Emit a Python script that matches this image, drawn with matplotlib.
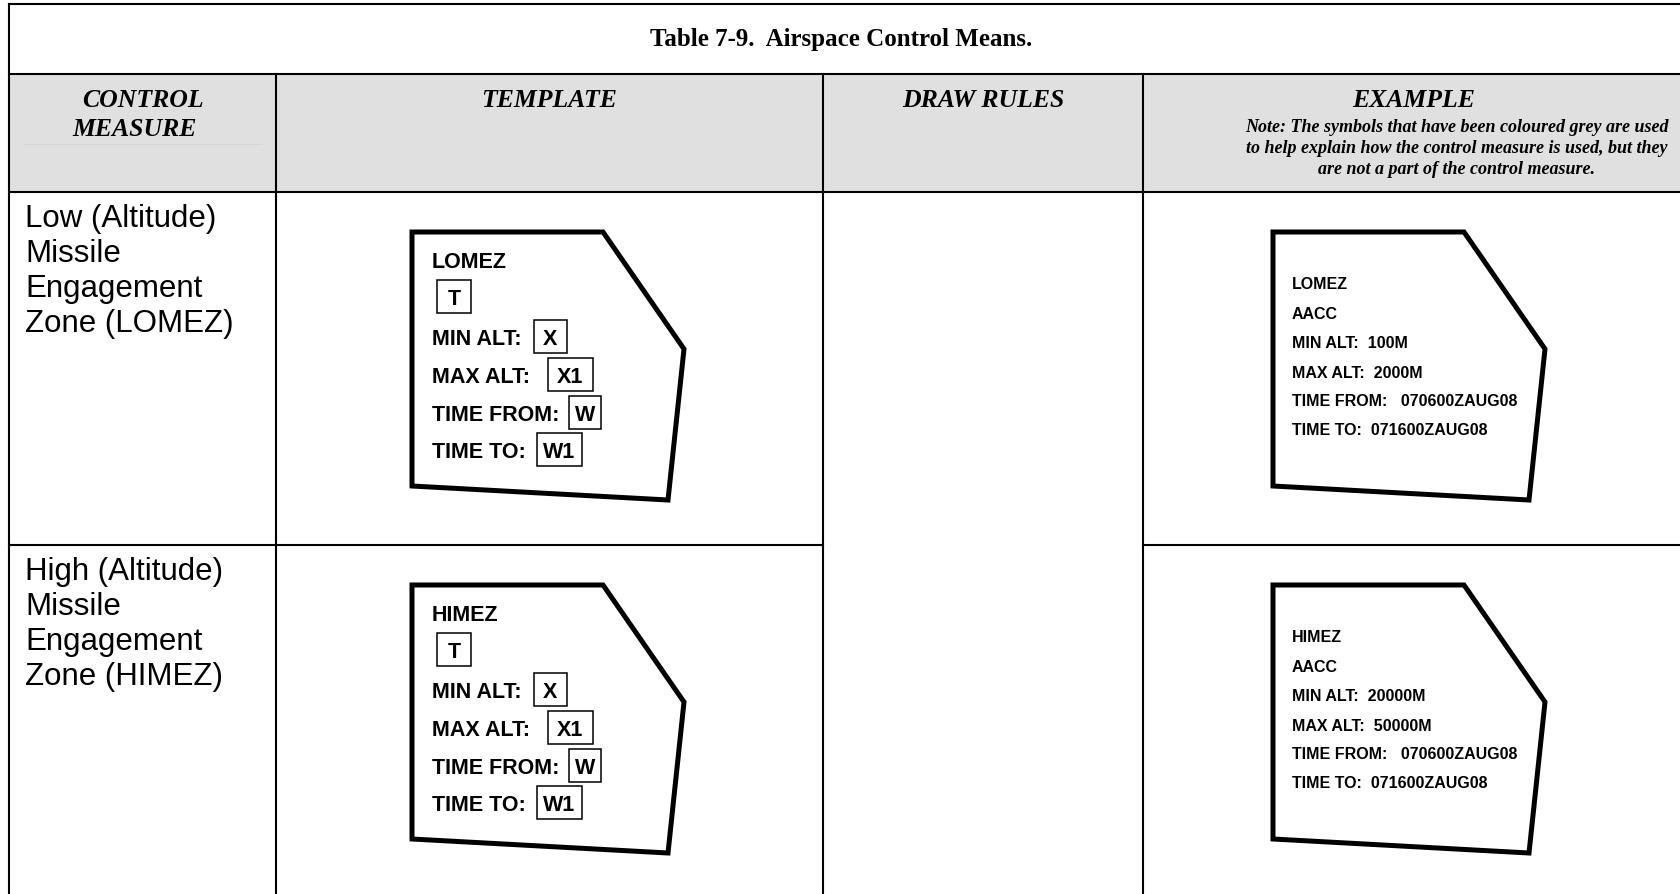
import matplotlib.pyplot as plt
from matplotlib.patches import Rectangle, Polygon

# table text
title = "Table 7-9.  Airspace Control Means."
col_heads = ["TEMPLATE", "DRAW RULES", "EXAMPLE"]
first_head = ["CONTROL", "MEASURE"]
note = ["Note: The symbols that have been coloured grey are used",
        "to help explain how the control measure is used, but they",
        "are not a part of the control measure."]
row_labels = [["Low (Altitude)", "Missile", "Engagement", "Zone (LOMEZ)"],
              ["High (Altitude)", "Missile", "Engagement", "Zone (HIMEZ)"]]
zone_names = ["LOMEZ", "HIMEZ"]
tmpl_fields = ["MIN ALT:", "MAX ALT:", "TIME FROM:", "TIME TO:"]
tmpl_boxes = ["T", "X", "X1", "W", "W1"]
aacc = ["AACC", "AACC"]
min_alt = ["100M", "20000M"]
max_alt = ["2000M", "50000M"]
time_from = ["070600ZAUG08", "070600ZAUG08"]
time_to = ["071600ZAUG08", "071600ZAUG08"]

W, H = 1681, 895
fig = plt.figure(figsize=(16.81, 8.95), dpi=100)
ax = fig.add_axes([0, 0, 1, 1])
ax.set_xlim(0, W)
ax.set_ylim(H, 0)
ax.axis('off')

serif = 'Liberation Serif'
sans = 'Liberation Sans'

xs = [9, 276, 823, 1143, W]
y_top, y_title, y_head, y_sep = 5, 75, 193, 546
row_tops = [y_head, y_sep]

# header fill
ax.add_patch(Rectangle((xs[0], y_title), W - xs[0], y_head - y_title,
                       fc='#e0e0e0', ec='none', zorder=0))

lk = dict(color='black', lw=1.5, solid_capstyle='projecting')
ax.plot([xs[0], W], [y_top, y_top], **lk)
ax.plot([xs[0], W], [y_title, y_title], **lk)
ax.plot([xs[0], W], [y_head, y_head], **lk)
ax.plot([xs[0], xs[2]], [y_sep, y_sep], **lk)
ax.plot([xs[3], W], [y_sep, y_sep], **lk)
ax.plot([xs[0], xs[0]], [y_top, H + 5], **lk)
for x in xs[1:4]:
    ax.plot([x, x], [y_title, H + 5], **lk)

# title and headers
ax.text(841, 46, title, ha='center', va='baseline', family=serif,
        weight='bold', fontsize=18)
ax.text(143, 107, first_head[0], ha='center', va='baseline', family=serif,
        weight='bold', style='italic', fontsize=18.5)
ax.text(135, 136, first_head[1], ha='center', va='baseline', family=serif,
        weight='bold', style='italic', fontsize=18.5)
ax.plot([23, 262], [145, 145], color='#d2d2d2', lw=0.6)
head_cx = [(xs[1] + xs[2]) / 2, (xs[2] + xs[3]) / 2, 1414]
for i, h in enumerate(col_heads):
    ax.text(head_cx[i], 107, h, ha='center', va='baseline', family=serif,
            weight='bold', style='italic', fontsize=18.5)
for i, line in enumerate(note):
    ax.text(1457, 132 + i * 21, line, ha='center', va='baseline',
            family=serif, weight='bold', style='italic', fontsize=13)

shape = [(0, 0), (191, 0), (272, 117), (256, 268), (0, 254)]

for r, top in enumerate(row_tops):
    # row label
    for i, s in enumerate(row_labels[r]):
        ax.text(25, top + 34 + i * 35, s, ha='left', va='baseline',
                family=sans, fontsize=22.5)

    # template shape
    tx, ty = 412, top + 40
    ax.add_patch(Polygon([(tx + a, ty + b) for a, b in shape], closed=True,
                         fill=False, ec='black', lw=3.6, joinstyle='miter'))
    cy = [67, 104.5, 144, 182, 220, 257]
    ax.text(432, top + cy[0] + 7.7, zone_names[r], ha='left', va='baseline',
            family=sans, weight='bold', fontsize=15.5)
    for i, f in enumerate(tmpl_fields):
        ax.text(432, top + cy[i + 2] + 7.7, f, ha='left', va='baseline',
                family=sans, weight='bold', fontsize=15.5)
    bx = [(437, 34), (534, 33), (548, 45), (569, 32), (537, 45)]
    for i, b in enumerate(tmpl_boxes):
        x0, bw = bx[i]
        yc = top + cy[i + 1]
        ax.add_patch(Rectangle((x0, yc - 16.5), bw, 33, fill=False,
                               ec='black', lw=1.1))
        ax.text(x0 + bw / 2, yc + 7.7, b, ha='center', va='baseline',
                family=sans, weight='bold', fontsize=15.5)

    # example shape
    ex, ey = 1273, top + 40
    ax.add_patch(Polygon([(ex + a, ey + b) for a, b in shape], closed=True,
                         fill=False, ec='black', lw=3.6, joinstyle='miter'))
    lines = [zone_names[r], aacc[r],
             "MIN ALT:  " + min_alt[r],
             "MAX ALT:  " + max_alt[r],
             "TIME FROM:   " + time_from[r],
             "TIME TO:  " + time_to[r]]
    ecy = [90, 120, 149, 179, 207, 236]
    for i, s in enumerate(lines):
        ax.text(1292, top + ecy[i] + 5.7, s, ha='left', va='baseline',
                family=sans, weight='bold', fontsize=11.5)

fig.savefig('out.png', dpi=100)
